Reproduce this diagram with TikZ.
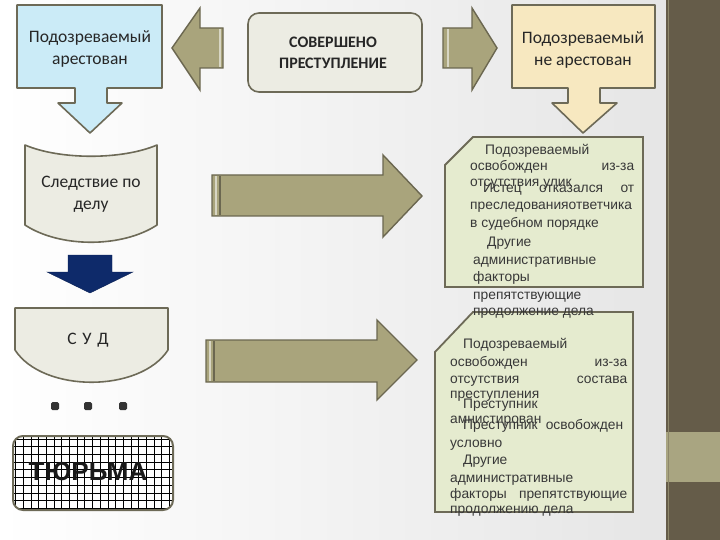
\documentclass[tikz,border=0pt]{standalone}
\usepackage{fontspec}
\setmainfont{Carlito}
\newfontfamily\notefont{Liberation Sans}
\definecolor{olivefill}{HTML}{A9A47C}
\definecolor{olivedraw}{HTML}{6B6750}
\definecolor{paneldark}{HTML}{655C49}
\definecolor{panellight}{HTML}{A9A581}
\definecolor{skyfill}{HTML}{CBEBF7}
\definecolor{sandfill}{HTML}{F7E8C0}
\definecolor{stonefill}{HTML}{ECECE3}
\definecolor{notefill}{HTML}{E5EBCF}
\definecolor{navyfill}{HTML}{0E2A6A}
\definecolor{edgegray}{HTML}{6D6A57}
\tikzset{
shapebox/.style={draw=edgegray, line width=1.6pt, line join=round},
fatarrow/.style={draw=olivedraw, fill=olivefill, line width=1.4pt},
tailstripe/.style={line width=2pt},
notebox/.style={draw=edgegray, fill=notefill, line width=1.8pt},
boxtext/.style={align=center, text=black!85, font=\fontsize{17.5}{22}\selectfont},
notetext/.style={anchor=base west, inner sep=0pt, text=black!78, font=\notefont\fontsize{13.8}{16}\selectfont}}

\begin{document}
\begin{tikzpicture}[x=1pt,y=-1pt]
    \useasboundingbox (0,0) rectangle (720,540);
    \shade[left color=white, right color=black!10] (0,0) rectangle (666,540);
    \fill[paneldark] (666,0) rectangle (720,540);
    \fill[panellight] (666,432) rectangle (720,482);
    \draw[panellight!60!paneldark, line width=1pt] (668.5,0) -- (668.5,540);

    \draw[shapebox, fill=skyfill] (17,5) -- (162,5) -- (162,88) -- (107,88) -- (107,103) -- (122,103) -- (90,133) -- (58,103) -- (75,103) -- (75,88) -- (17,88) -- cycle;
    \draw[shapebox, fill=sandfill] (512,5) -- (655,5) -- (655,88) -- (600,88) -- (600,103) -- (617,103) -- (583,133) -- (552,103) -- (568,103) -- (568,88) -- (512,88) -- cycle;
    \draw[shapebox, fill=stonefill, rounded corners=11pt] (248,13) rectangle (422,92);

    \draw[fatarrow] (223,28) -- (200,28) -- (200,8) -- (172,48) -- (200,90) -- (200,68) -- (223,68) -- cycle;
    \draw[tailstripe, olivefill!45!white] (220,29) -- (220,67);
    \draw[fatarrow] (443,28) -- (472,28) -- (472,8) -- (497,48) -- (472,90) -- (472,68) -- (443,68) -- cycle;
    \draw[tailstripe, olivefill!45!white] (448,29) -- (448,67);
    \draw[fatarrow] (212,175) -- (383,175) -- (383,155) -- (422,196) -- (383,237) -- (383,216) -- (212,216) -- cycle;
    \draw[tailstripe, olivefill!45!white] (216,176) -- (216,215);
    \draw[tailstripe, olivedraw] (220,176) -- (220,215);
    \draw[fatarrow] (206,340) -- (377,340) -- (377,320) -- (417,360) -- (377,400) -- (377,382) -- (206,382) -- cycle;
    \draw[tailstripe, olivefill!45!white] (210,341) -- (210,381);
    \draw[tailstripe, olivedraw] (214,341) -- (214,381);

    \draw[shapebox, fill=stonefill] (25,145) .. controls (60,160) and (122,160) .. (157,145) -- (157,225) .. controls (122,248) and (60,248) .. (25,225) -- cycle;
    \draw[fill=navyfill, draw=navyfill!80!black] (68,255) -- (112,255) -- (112,272) -- (133,272) -- (90,293) -- (47,272) -- (68,272) -- cycle;
    \draw[shapebox, fill=stonefill] (15,308) -- (168,308) -- (168,350) .. controls (140,393) and (43,393) .. (15,350) -- cycle;
    \fill[black!80, rounded corners=1.5pt] (51,402) rectangle (59,410);
    \fill[black!80, rounded corners=1.5pt] (84,402) rectangle (92,410);
    \fill[black!80, rounded corners=1.5pt] (119,402) rectangle (127,410);
    \begin{scope}
        \clip[rounded corners=10pt] (13,436) rectangle (173,510);
        \fill[white] (13,436) rectangle (173,510);
        \draw[black, line width=0.6pt, step=7.7pt] (13,436) grid (173,510);
    \end{scope}
    \draw[shapebox, line width=2pt, rounded corners=10pt] (13,436) rectangle (173,510);

    \draw[notebox] (445,165) -- (473,137) -- (643,137) -- (643,287) -- (445,287) -- cycle;
    \draw[notebox] (435,352) -- (473,312) -- (633,312) -- (633,512) -- (435,512) -- cycle;

    \node[boxtext] (arrested) at (90,49) {Подозреваемый\\арестован};
    \node[boxtext, font=\bfseries\fontsize{16}{21}\selectfont] (crime) at (333,53) {СОВЕРШЕНО\\ПРЕСТУПЛЕНИЕ};
    \node[boxtext] (free) at (583,50) {Подозреваемый\\не арестован};
    \node[boxtext] (inquiry) at (91,194) {Следствие по\\делу};
    \node[boxtext] (court) at (88,340) {С\,\,У\,\,Д};
    \node[text=black!90, font=\notefont\bfseries\fontsize{26}{26}\selectfont] (prison) at (88,472) {ТЮРЬМА};

    \node[notetext] (n1a) at (485,155) {Подозреваемый};
    \node[notetext] (n1b) at (470,171) {\makebox[164pt][s]{освобожден из-за}};
    \node[notetext] (n1c) at (470,187) {отсутствия улик};
    \node[notetext] (n1d) at (483,193) {\makebox[151pt][s]{Истец отказался от}};
    \node[notetext] (n1e) at (470,210) {преследованияответчика};
    \node[notetext] (n1f) at (470,227) {в судебном порядке};
    \node[notetext] (n1g) at (487,247) {Другие};
    \node[notetext] (n1h) at (473,264) {административные};
    \node[notetext] (n1i) at (473,281) {факторы};
    \node[notetext] (n1j) at (473,299) {препятствующие};
    \node[notetext] (n1k) at (473,315) {продолжение дела};

    \node[notetext] (n2a) at (463,348) {Подозреваемый};
    \node[notetext] (n2b) at (450,366) {\makebox[177pt][s]{освобожден из-за}};
    \node[notetext] (n2c) at (450,383) {\makebox[177pt][s]{отсутствия состава}};
    \node[notetext] (n2d) at (450,398) {преступления};
    \node[notetext] (n2e) at (463,408) {Преступник};
    \node[notetext] (n2f) at (450,423) {амнистирован};
    \node[notetext] (n2g) at (463,429) {\makebox[160pt][s]{Преступник освобожден}};
    \node[notetext] (n2h) at (450,447) {условно};
    \node[notetext] (n2i) at (463,464) {Другие};
    \node[notetext] (n2j) at (450,482) {административные};
    \node[notetext] (n2k) at (450,498) {\makebox[177pt][s]{факторы препятствующие}};
    \node[notetext] (n2l) at (450,513) {продолжению дела};
\end{tikzpicture}
\end{document}
